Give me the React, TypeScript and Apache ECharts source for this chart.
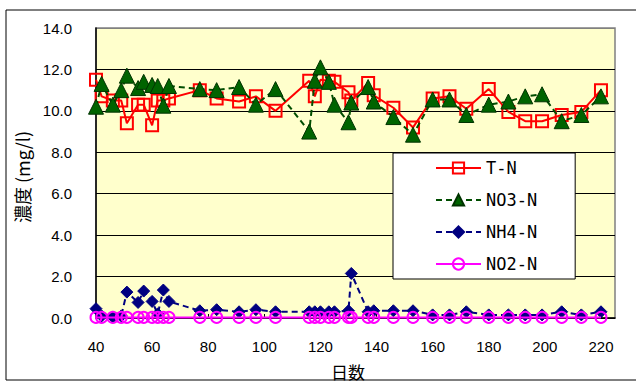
import React, { useEffect, useRef } from "react";
import * as echarts from "echarts";

// Sampling days (elapsed days)
const days = [40, 42, 46, 49, 51, 55, 57, 60, 62, 64, 66, 77, 83, 91, 97, 104, 116, 118, 120, 123, 125, 130, 131, 137, 139, 146, 153, 160, 166, 172, 180, 187, 193, 199, 206, 213, 220];

// Concentrations (mg/l)
const totalN = [11.5, 10.7, 10.5, 10.5, 9.4, 10.3, 10.3, 9.3, 10.5, 10.5, 10.6, 11.0, 10.6, 10.45, 10.7, 10.0, 11.45, 10.7, 11.5, 11.45, 11.4, 10.9, 10.5, 11.35, 10.75, 10.15, 9.2, 10.6, 10.7, 10.1, 11.05, 9.95, 9.5, 9.5, 9.8, 9.95, 11.0];
const no3N = [10.2, 11.3, 10.3, 11.0, 11.7, 11.1, 11.4, 11.25, 11.2, 10.25, 11.2, 11.05, 11.0, 11.15, 10.3, 11.05, 9.0, 11.45, 12.1, 11.4, 10.3, 9.45, 10.4, 11.15, 10.45, 9.7, 8.85, 10.55, 10.55, 9.8, 10.3, 10.45, 10.7, 10.8, 9.5, 9.8, 10.7];
const nh4N = [0.45, 0.1, 0.05, 0.1, 1.25, 0.75, 1.3, 0.8, 0.2, 1.35, 0.8, 0.35, 0.4, 0.3, 0.4, 0.3, 0.3, 0.3, 0.3, 0.3, 0.3, 0.35, 2.15, 0.3, 0.35, 0.35, 0.35, 0.15, 0.15, 0.3, 0.15, 0.15, 0.15, 0.15, 0.3, 0.15, 0.3];
const no2N = [0.03, 0.03, 0.03, 0.03, 0.03, 0.03, 0.03, 0.03, 0.03, 0.03, 0.03, 0.03, 0.03, 0.03, 0.03, 0.03, 0.03, 0.03, 0.03, 0.03, 0.03, 0.03, 0.03, 0.03, 0.03, 0.03, 0.03, 0.03, 0.03, 0.03, 0.03, 0.03, 0.03, 0.03, 0.03, 0.03, 0.03];

const seriesNames = ["T-N", "NO3-N", "NH4-N", "NO2-N"];

const pairs = (vals: number[]) => days.map((d, i) => [d, vals[i]]);

export default function App() {
  const ref = useRef<HTMLDivElement>(null);

  useEffect(() => {
    if (!ref.current) return;
    const chart = echarts.init(ref.current, undefined, { renderer: "svg" });
    const numFont = "Liberation Sans";
    const jpFont = "Noto Sans CJK JP";

    chart.setOption({
      animation: false,
      backgroundColor: "#ffffff",
      grid: {
        left: 96,
        top: 28,
        width: 519,
        height: 290,
        show: true,
        backgroundColor: "#FFFFCC",
        borderColor: "#808080",
        borderWidth: 1.5,
      },
      xAxis: {
        type: "value",
        min: 40,
        max: 225,
        interval: 20,
        axisLine: { show: true, onZero: false, lineStyle: { color: "#000", width: 1.5 } },
        axisTick: { show: true, inside: true, length: 4, lineStyle: { color: "#000" } },
        splitLine: { show: false },
        axisLabel: {
          showMaxLabel: false,
          margin: 21,
          color: "#000",
          fontSize: 15,
          fontFamily: numFont,
        },
      },
      yAxis: {
        type: "value",
        min: 0,
        max: 14,
        interval: 2,
        axisLine: { show: true, lineStyle: { color: "#000", width: 1.5 } },
        axisTick: { show: false },
        splitLine: {
          show: true,
          lineStyle: {
            color: ["#000", "#000", "#000", "#000", "#000", "#000", "#000", "#808080"],
            width: 1,
          },
        },
        axisLabel: {
          margin: 24,
          color: "#000",
          fontSize: 15,
          fontFamily: numFont,
          formatter: (v: number) => v.toFixed(1),
        },
      },
      legend: {
        orient: "vertical",
        left: 393,
        top: 153,
        backgroundColor: "#ffffff",
        borderColor: "#000",
        borderWidth: 1,
        borderRadius: 0,
        padding: [5, 38, 5, 42],
        itemGap: 12,
        itemWidth: 45,
        itemHeight: 14,
        data: seriesNames,
        textStyle: {
          color: "#000",
          fontSize: 17,
          lineHeight: 20,
          fontFamily: "DejaVu Sans Mono",
        },
      },
      graphic: [
        {
          type: "rect",
          silent: true,
          shape: { x: 6, y: 10, width: 640, height: 370 },
          style: { fill: "none", stroke: "#000", lineWidth: 1 },
          z: 100,
        },
        {
          type: "text",
          x: 22,
          y: 177,
          rotation: Math.PI / 2,
          style: {
            text: "濃度 (mg/l)",
            fill: "#000",
            fontSize: 18,
            fontFamily: jpFont,
            textAlign: "center",
            textVerticalAlign: "middle",
          },
        },
        {
          type: "text",
          x: 348,
          y: 371,
          style: {
            text: "日数",
            fill: "#000",
            fontSize: 17,
            fontFamily: jpFont,
            textAlign: "center",
            textVerticalAlign: "middle",
          },
        },
      ],
      series: [
        {
          name: seriesNames[0],
          type: "line",
          data: pairs(totalN),
          symbol: "rect",
          symbolSize: 12,
          lineStyle: { color: "#FF0000", width: 2 },
          itemStyle: { color: "rgba(0,0,0,0)", borderColor: "#FF0000", borderWidth: 2 },
          z: 2,
        },
        {
          name: seriesNames[1],
          type: "line",
          data: pairs(no3N),
          symbol: "triangle",
          symbolSize: 15,
          lineStyle: { color: "#004D00", width: 2, type: [6, 4] },
          itemStyle: { color: "#006400", borderColor: "#003300", borderWidth: 1 },
          z: 3,
        },
        {
          name: seriesNames[2],
          type: "line",
          data: pairs(nh4N),
          symbol: "diamond",
          symbolSize: 12,
          lineStyle: { color: "#000080", width: 2, type: [6, 4] },
          itemStyle: { color: "#000080", borderColor: "#000080", borderWidth: 1 },
          z: 4,
        },
        {
          name: seriesNames[3],
          type: "line",
          data: pairs(no2N),
          symbol: "circle",
          symbolSize: 11,
          lineStyle: { color: "#FF00FF", width: 2 },
          itemStyle: { color: "rgba(0,0,0,0)", borderColor: "#FF00FF", borderWidth: 2 },
          z: 5,
        },
      ],
    });

    return () => chart.dispose();
  }, []);

  return (
    <div
      ref={ref}
      style={{ position: "fixed", left: 0, top: 0, width: 636, height: 383 }}
    />
  );
}
